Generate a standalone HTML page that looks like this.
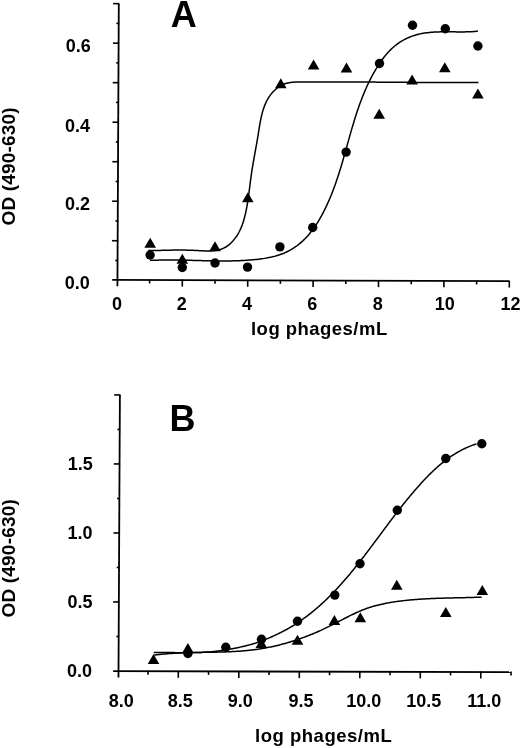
<!DOCTYPE html>
<html><head><meta charset="utf-8"><style>
html,body{margin:0;padding:0;background:#fff;}
body{width:520px;height:748px;overflow:hidden;}
svg{display:block;will-change:transform;}
text{font-family:"Liberation Sans",sans-serif;font-weight:bold;fill:#000;}
</style></head><body>
<svg width="520" height="748" viewBox="0 0 520 748">
<rect width="520" height="748" fill="#fff"/>
<g stroke="#000" fill="#000" stroke-linecap="butt">
<line x1="112.20" y1="279.89" x2="509.30" y2="281.04" stroke-width="1.8"/>
<line x1="118.80" y1="3.64" x2="117.42" y2="286.20" stroke-width="1.8"/>
<line x1="115.25" y1="260.49" x2="118.05" y2="260.49" stroke-width="1.6"/>
<line x1="111.94" y1="240.73" x2="118.14" y2="240.73" stroke-width="1.6"/>
<line x1="115.44" y1="220.98" x2="118.24" y2="220.98" stroke-width="1.6"/>
<line x1="112.13" y1="201.22" x2="118.33" y2="201.22" stroke-width="1.6"/>
<line x1="115.63" y1="181.46" x2="118.43" y2="181.46" stroke-width="1.6"/>
<line x1="112.33" y1="161.70" x2="118.53" y2="161.70" stroke-width="1.6"/>
<line x1="115.82" y1="141.94" x2="118.62" y2="141.94" stroke-width="1.6"/>
<line x1="112.52" y1="122.19" x2="118.72" y2="122.19" stroke-width="1.6"/>
<line x1="116.02" y1="102.43" x2="118.82" y2="102.43" stroke-width="1.6"/>
<line x1="112.71" y1="82.67" x2="118.91" y2="82.67" stroke-width="1.6"/>
<line x1="116.21" y1="62.91" x2="119.01" y2="62.91" stroke-width="1.6"/>
<line x1="112.91" y1="43.15" x2="119.11" y2="43.15" stroke-width="1.6"/>
<line x1="116.40" y1="23.40" x2="119.20" y2="23.40" stroke-width="1.6"/>
<line x1="113.10" y1="3.64" x2="119.30" y2="3.64" stroke-width="1.6"/>
<line x1="149.60" y1="279.49" x2="149.60" y2="283.49" stroke-width="1.6"/>
<line x1="182.30" y1="279.59" x2="182.30" y2="286.59" stroke-width="1.6"/>
<line x1="215.00" y1="279.68" x2="215.00" y2="283.68" stroke-width="1.6"/>
<line x1="247.70" y1="279.78" x2="247.70" y2="286.78" stroke-width="1.6"/>
<line x1="280.40" y1="279.87" x2="280.40" y2="283.87" stroke-width="1.6"/>
<line x1="313.10" y1="279.97" x2="313.10" y2="286.97" stroke-width="1.6"/>
<line x1="345.80" y1="280.06" x2="345.80" y2="284.06" stroke-width="1.6"/>
<line x1="378.50" y1="280.16" x2="378.50" y2="287.16" stroke-width="1.6"/>
<line x1="411.20" y1="280.25" x2="411.20" y2="284.25" stroke-width="1.6"/>
<line x1="443.90" y1="280.35" x2="443.90" y2="287.35" stroke-width="1.6"/>
<line x1="476.60" y1="280.44" x2="476.60" y2="284.44" stroke-width="1.6"/>
<line x1="509.30" y1="280.54" x2="509.30" y2="287.54" stroke-width="1.6"/>
<line x1="113.20" y1="671.19" x2="511.05" y2="672.10" stroke-width="1.8"/>
<line x1="119.90" y1="394.95" x2="118.47" y2="677.50" stroke-width="1.8"/>
<line x1="116.38" y1="636.45" x2="119.18" y2="636.45" stroke-width="1.6"/>
<line x1="113.15" y1="601.95" x2="119.35" y2="601.95" stroke-width="1.6"/>
<line x1="116.73" y1="567.45" x2="119.53" y2="567.45" stroke-width="1.6"/>
<line x1="113.50" y1="532.95" x2="119.70" y2="532.95" stroke-width="1.6"/>
<line x1="117.08" y1="498.45" x2="119.88" y2="498.45" stroke-width="1.6"/>
<line x1="113.85" y1="463.95" x2="120.05" y2="463.95" stroke-width="1.6"/>
<line x1="117.43" y1="429.45" x2="120.23" y2="429.45" stroke-width="1.6"/>
<line x1="114.20" y1="394.95" x2="120.40" y2="394.95" stroke-width="1.6"/>
<line x1="148.05" y1="670.77" x2="148.05" y2="674.77" stroke-width="1.6"/>
<line x1="178.30" y1="670.84" x2="178.30" y2="677.84" stroke-width="1.6"/>
<line x1="208.55" y1="670.91" x2="208.55" y2="674.91" stroke-width="1.6"/>
<line x1="238.80" y1="670.98" x2="238.80" y2="677.98" stroke-width="1.6"/>
<line x1="269.05" y1="671.05" x2="269.05" y2="675.05" stroke-width="1.6"/>
<line x1="299.30" y1="671.12" x2="299.30" y2="678.12" stroke-width="1.6"/>
<line x1="329.55" y1="671.19" x2="329.55" y2="675.19" stroke-width="1.6"/>
<line x1="359.80" y1="671.26" x2="359.80" y2="678.26" stroke-width="1.6"/>
<line x1="390.05" y1="671.33" x2="390.05" y2="675.33" stroke-width="1.6"/>
<line x1="420.30" y1="671.40" x2="420.30" y2="678.40" stroke-width="1.6"/>
<line x1="450.55" y1="671.47" x2="450.55" y2="675.47" stroke-width="1.6"/>
<line x1="480.80" y1="671.53" x2="480.80" y2="678.53" stroke-width="1.6"/>
<line x1="511.05" y1="671.60" x2="511.05" y2="675.60" stroke-width="1.6"/>
<path d="M148.33,250.55 L149.59,250.55 L150.87,250.55 L152.18,250.54 L153.51,250.52 L154.86,250.50 L156.24,250.47 L157.63,250.44 L159.05,250.41 L160.48,250.38 L161.94,250.35 L163.40,250.31 L164.89,250.27 L166.39,250.24 L167.91,250.21 L169.44,250.17 L170.98,250.14 L172.53,250.12 L174.09,250.09 L175.66,250.08 L177.24,250.06 L178.83,250.06 L180.42,250.06 L182.02,250.06 L183.63,250.07 L185.23,250.10 L186.85,250.13 L188.46,250.17 L190.07,250.22 L191.68,250.28 L193.29,250.35 L194.90,250.44 L196.51,250.53 L198.11,250.62 L199.71,250.71 L201.30,250.80 L202.88,250.87 L204.46,250.93 L206.03,250.96 L207.59,250.98 L209.13,250.96 L210.67,250.91 L212.19,250.82 L213.69,250.68 L215.18,250.50 L216.64,250.26 L218.09,249.97 L219.50,249.62 L220.90,249.20 L222.26,248.71 L223.59,248.15 L224.89,247.50 L226.16,246.77 L227.39,245.96 L228.58,245.07 L229.73,244.10 L230.84,243.09 L231.90,242.02 L232.92,240.92 L233.89,239.80 L234.81,238.64 L235.69,237.46 L236.53,236.26 L237.32,235.04 L238.07,233.79 L238.79,232.52 L239.47,231.23 L240.11,229.92 L240.72,228.59 L241.29,227.25 L241.84,225.88 L242.36,224.50 L242.85,223.10 L243.31,221.69 L243.75,220.26 L244.17,218.82 L244.56,217.37 L244.94,215.90 L245.30,214.42 L245.64,212.94 L245.96,211.44 L246.27,209.93 L246.57,208.42 L246.85,206.89 L247.12,205.37 L247.38,203.83 L247.63,202.29 L247.87,200.75 L248.10,199.20 L248.32,197.65 L248.54,196.10 L248.74,194.54 L248.95,192.99 L249.15,191.44 L249.34,189.89 L249.54,188.34 L249.73,186.79 L249.92,185.25 L250.12,183.71 L250.31,182.17 L250.51,180.65 L250.71,179.13 L250.91,177.61 L251.12,176.11 L251.33,174.61 L251.55,173.12 L251.77,171.64 L252.00,170.17 L252.23,168.70 L252.47,167.24 L252.71,165.79 L252.96,164.33 L253.20,162.89 L253.45,161.44 L253.71,160.00 L253.96,158.55 L254.22,157.11 L254.48,155.67 L254.74,154.23 L255.00,152.79 L255.26,151.34 L255.52,149.90 L255.78,148.45 L256.04,146.99 L256.30,145.53 L256.56,144.07 L256.82,142.60 L257.08,141.13 L257.33,139.64 L257.59,138.15 L257.84,136.65 L258.09,135.15 L258.33,133.63 L258.57,132.10 L258.82,130.57 L259.06,129.03 L259.31,127.48 L259.56,125.93 L259.83,124.38 L260.10,122.83 L260.39,121.29 L260.69,119.74 L261.00,118.20 L261.34,116.67 L261.69,115.15 L262.07,113.64 L262.47,112.13 L262.90,110.65 L263.36,109.17 L263.85,107.71 L264.37,106.27 L264.93,104.85 L265.52,103.45 L266.15,102.08 L266.83,100.73 L267.54,99.40 L268.30,98.10 L269.11,96.83 L269.97,95.59 L270.88,94.38 L271.84,93.21 L272.84,92.08 L273.89,90.99 L274.99,89.95 L276.12,88.96 L277.30,88.02 L278.51,87.15 L279.75,86.33 L281.03,85.58 L282.34,84.90 L283.67,84.29 L285.03,83.76 L286.42,83.31 L287.82,82.95 L289.25,82.66 L290.69,82.44 L292.14,82.27 L293.61,82.16 L295.09,82.08 L296.58,82.03 L298.07,82.01 L299.57,81.99 L301.06,81.98 L302.56,81.97 L304.06,81.96 L305.56,81.95 L307.07,81.94 L308.57,81.93 L310.07,81.93 L311.58,81.92 L313.08,81.91 L314.59,81.91 L316.10,81.91 L317.61,81.90 L319.12,81.90 L320.63,81.90 L322.14,81.89 L323.65,81.89 L325.17,81.89 L326.68,81.89 L328.20,81.89 L329.71,81.90 L331.23,81.90 L332.75,81.90 L334.26,81.90 L335.78,81.91 L337.30,81.91 L338.82,81.91 L340.34,81.92 L341.86,81.92 L343.39,81.93 L344.91,81.94 L346.43,81.94 L347.95,81.95 L349.48,81.96 L351.00,81.96 L352.53,81.97 L354.05,81.98 L355.58,81.99 L357.10,82.00 L358.63,82.01 L360.16,82.02 L361.68,82.03 L363.21,82.04 L364.74,82.05 L366.26,82.06 L367.79,82.07 L369.32,82.08 L370.85,82.09 L372.38,82.10 L373.91,82.11 L375.43,82.12 L376.96,82.13 L378.49,82.15 L380.02,82.16 L381.55,82.17 L383.08,82.18 L384.61,82.19 L386.14,82.21 L387.66,82.22 L389.19,82.23 L390.72,82.24 L392.25,82.25 L393.78,82.27 L395.31,82.28 L396.83,82.29 L398.36,82.30 L399.89,82.32 L401.42,82.33 L402.94,82.34 L404.47,82.35 L406.00,82.36 L407.52,82.37 L409.05,82.38 L410.57,82.40 L412.10,82.41 L413.62,82.42 L415.15,82.43 L416.67,82.44 L418.19,82.45 L419.72,82.46 L421.24,82.47 L422.76,82.48 L424.28,82.49 L425.80,82.49 L427.32,82.50 L428.84,82.51 L430.36,82.52 L431.88,82.53 L433.39,82.53 L434.91,82.54 L436.43,82.54 L437.94,82.55 L439.46,82.56 L440.97,82.56 L442.48,82.56 L443.99,82.57 L445.50,82.57 L447.01,82.57 L448.52,82.58 L450.03,82.58 L451.54,82.58 L453.04,82.58 L454.55,82.58 L456.05,82.58 L457.56,82.58 L459.06,82.58 L460.56,82.58 L462.06,82.57 L463.56,82.57 L465.05,82.57 L466.55,82.56 L468.05,82.56 L469.54,82.55 L471.03,82.54 L472.52,82.53 L474.01,82.53 L475.50,82.52 L476.99,82.51 L478.48,82.50" fill="none" stroke-width="1.5" stroke-linejoin="round"/>
<path d="M150.02,260.44 L151.59,260.37 L153.15,260.30 L154.71,260.24 L156.27,260.18 L157.83,260.14 L159.38,260.10 L160.94,260.06 L162.49,260.04 L164.03,260.01 L165.58,260.00 L167.13,259.99 L168.67,259.99 L170.21,259.99 L171.75,259.99 L173.29,260.00 L174.83,260.02 L176.37,260.03 L177.91,260.05 L179.44,260.08 L180.98,260.11 L182.51,260.14 L184.05,260.17 L185.58,260.21 L187.11,260.24 L188.65,260.28 L190.18,260.32 L191.71,260.36 L193.25,260.40 L194.78,260.45 L196.31,260.49 L197.85,260.53 L199.38,260.57 L200.91,260.62 L202.45,260.66 L203.99,260.70 L205.52,260.74 L207.06,260.77 L208.60,260.81 L210.14,260.84 L211.68,260.87 L213.23,260.90 L214.77,260.92 L216.32,260.94 L217.86,260.96 L219.41,260.97 L220.97,260.98 L222.52,260.99 L224.07,260.99 L225.63,260.98 L227.19,260.97 L228.75,260.96 L230.32,260.93 L231.88,260.91 L233.45,260.87 L235.01,260.83 L236.58,260.79 L238.15,260.73 L239.72,260.67 L241.29,260.60 L242.85,260.52 L244.42,260.43 L245.99,260.34 L247.56,260.23 L249.12,260.12 L250.68,260.00 L252.25,259.87 L253.81,259.73 L255.36,259.57 L256.92,259.41 L258.47,259.23 L260.02,259.04 L261.56,258.84 L263.10,258.62 L264.63,258.38 L266.16,258.12 L267.68,257.85 L269.19,257.55 L270.70,257.23 L272.19,256.89 L273.68,256.53 L275.16,256.14 L276.62,255.72 L278.08,255.27 L279.52,254.80 L280.95,254.29 L282.36,253.76 L283.77,253.19 L285.16,252.59 L286.53,251.95 L287.89,251.29 L289.23,250.59 L290.56,249.86 L291.87,249.10 L293.16,248.31 L294.43,247.49 L295.68,246.63 L296.92,245.75 L298.13,244.84 L299.32,243.90 L300.49,242.93 L301.64,241.93 L302.77,240.90 L303.87,239.85 L304.96,238.77 L306.02,237.67 L307.07,236.54 L308.10,235.39 L309.10,234.22 L310.09,233.03 L311.06,231.82 L312.01,230.59 L312.94,229.34 L313.85,228.07 L314.75,226.79 L315.63,225.49 L316.49,224.18 L317.34,222.86 L318.17,221.52 L318.98,220.17 L319.78,218.81 L320.56,217.44 L321.33,216.07 L322.08,214.68 L322.82,213.29 L323.55,211.89 L324.26,210.49 L324.96,209.08 L325.64,207.67 L326.31,206.26 L326.97,204.85 L327.62,203.43 L328.26,202.02 L328.88,200.60 L329.50,199.18 L330.10,197.76 L330.69,196.34 L331.27,194.91 L331.84,193.48 L332.41,192.05 L332.96,190.62 L333.50,189.19 L334.04,187.76 L334.57,186.32 L335.09,184.88 L335.60,183.44 L336.10,181.99 L336.60,180.55 L337.09,179.10 L337.57,177.64 L338.05,176.19 L338.52,174.73 L338.99,173.27 L339.45,171.81 L339.91,170.34 L340.36,168.88 L340.81,167.41 L341.25,165.93 L341.69,164.46 L342.13,162.98 L342.56,161.50 L343.00,160.01 L343.42,158.53 L343.85,157.04 L344.27,155.56 L344.70,154.07 L345.12,152.57 L345.54,151.08 L345.96,149.59 L346.37,148.10 L346.79,146.60 L347.21,145.11 L347.63,143.61 L348.04,142.11 L348.46,140.62 L348.88,139.12 L349.30,137.62 L349.72,136.13 L350.15,134.63 L350.57,133.14 L351.00,131.64 L351.43,130.15 L351.87,128.65 L352.30,127.16 L352.75,125.67 L353.19,124.18 L353.64,122.69 L354.09,121.21 L354.55,119.72 L355.01,118.24 L355.47,116.76 L355.95,115.28 L356.42,113.80 L356.91,112.33 L357.40,110.86 L357.89,109.39 L358.39,107.92 L358.90,106.46 L359.42,105.00 L359.94,103.55 L360.48,102.09 L361.02,100.64 L361.56,99.20 L362.12,97.76 L362.69,96.32 L363.26,94.89 L363.85,93.46 L364.44,92.03 L365.04,90.61 L365.66,89.20 L366.28,87.79 L366.92,86.38 L367.56,84.98 L368.22,83.59 L368.89,82.20 L369.57,80.81 L370.26,79.43 L370.97,78.06 L371.69,76.70 L372.42,75.33 L373.16,73.98 L373.92,72.63 L374.69,71.29 L375.48,69.96 L376.28,68.63 L377.09,67.31 L377.92,66.00 L378.77,64.69 L379.63,63.39 L380.50,62.10 L381.40,60.82 L382.30,59.55 L383.23,58.30 L384.17,57.06 L385.14,55.84 L386.12,54.64 L387.12,53.46 L388.14,52.31 L389.19,51.19 L390.25,50.09 L391.34,49.03 L392.45,48.00 L393.58,47.00 L394.73,46.03 L395.91,45.10 L397.10,44.19 L398.31,43.32 L399.55,42.48 L400.80,41.68 L402.07,40.90 L403.36,40.16 L404.67,39.45 L406.00,38.78 L407.34,38.14 L408.71,37.53 L410.09,36.95 L411.49,36.41 L412.90,35.90 L414.33,35.43 L415.78,34.99 L417.24,34.58 L418.72,34.21 L420.21,33.88 L421.72,33.57 L423.24,33.29 L424.77,33.05 L426.31,32.83 L427.86,32.64 L429.43,32.47 L431.00,32.32 L432.58,32.20 L434.16,32.09 L435.76,32.01 L437.35,31.94 L438.96,31.89 L440.56,31.85 L442.17,31.82 L443.78,31.80 L445.39,31.80 L447.00,31.80 L448.61,31.80 L450.22,31.81 L451.83,31.83 L453.43,31.85 L455.03,31.86 L456.63,31.88 L458.21,31.89 L459.80,31.90 L461.37,31.90 L462.93,31.90 L464.49,31.89 L466.04,31.86 L467.57,31.83 L469.09,31.78 L470.60,31.71 L472.10,31.63 L473.58,31.54 L475.05,31.42 L476.50,31.28 L477.93,31.12" fill="none" stroke-width="1.5" stroke-linejoin="round"/>
<path d="M153.75,652.60 L155.07,652.58 L156.40,652.56 L157.72,652.55 L159.05,652.54 L160.39,652.53 L161.72,652.53 L163.06,652.53 L164.39,652.54 L165.73,652.54 L167.08,652.55 L168.42,652.56 L169.76,652.57 L171.11,652.59 L172.46,652.60 L173.81,652.61 L175.16,652.63 L176.52,652.64 L177.87,652.65 L179.23,652.66 L180.58,652.67 L181.94,652.68 L183.30,652.68 L184.66,652.69 L186.02,652.69 L187.38,652.68 L188.74,652.68 L190.10,652.67 L191.46,652.65 L192.83,652.63 L194.19,652.61 L195.55,652.58 L196.92,652.54 L198.28,652.50 L199.65,652.45 L201.01,652.40 L202.37,652.34 L203.74,652.27 L205.10,652.19 L206.46,652.11 L207.82,652.01 L209.19,651.91 L210.55,651.80 L211.91,651.68 L213.27,651.55 L214.63,651.41 L215.98,651.26 L217.34,651.09 L218.70,650.92 L220.05,650.74 L221.41,650.54 L222.76,650.34 L224.11,650.13 L225.46,649.91 L226.81,649.68 L228.15,649.45 L229.50,649.21 L230.84,648.96 L232.18,648.71 L233.52,648.45 L234.86,648.19 L236.19,647.93 L237.53,647.66 L238.86,647.39 L240.18,647.11 L241.51,646.82 L242.83,646.52 L244.15,646.22 L245.47,645.91 L246.79,645.58 L248.10,645.25 L249.41,644.90 L250.72,644.54 L252.02,644.17 L253.32,643.78 L254.62,643.38 L255.92,642.96 L257.21,642.53 L258.49,642.09 L259.78,641.63 L261.06,641.16 L262.34,640.67 L263.61,640.18 L264.88,639.67 L266.15,639.16 L267.41,638.64 L268.67,638.10 L269.92,637.57 L271.17,637.02 L272.41,636.47 L273.66,635.91 L274.89,635.34 L276.12,634.77 L277.35,634.19 L278.57,633.60 L279.79,633.00 L281.01,632.40 L282.21,631.78 L283.42,631.16 L284.62,630.52 L285.81,629.88 L287.00,629.22 L288.18,628.56 L289.36,627.88 L290.53,627.19 L291.70,626.50 L292.86,625.79 L294.02,625.07 L295.17,624.35 L296.31,623.61 L297.45,622.87 L298.58,622.11 L299.71,621.35 L300.83,620.58 L301.94,619.80 L303.05,619.01 L304.15,618.22 L305.24,617.41 L306.33,616.60 L307.41,615.78 L308.49,614.96 L309.56,614.13 L310.62,613.29 L311.68,612.45 L312.72,611.60 L313.77,610.74 L314.80,609.88 L315.83,609.01 L316.86,608.14 L317.87,607.26 L318.89,606.37 L319.89,605.48 L320.89,604.58 L321.89,603.68 L322.88,602.77 L323.86,601.86 L324.84,600.94 L325.81,600.02 L326.78,599.09 L327.74,598.15 L328.70,597.21 L329.65,596.27 L330.60,595.32 L331.54,594.37 L332.48,593.41 L333.42,592.44 L334.34,591.48 L335.27,590.50 L336.19,589.53 L337.11,588.55 L338.02,587.56 L338.93,586.57 L339.83,585.58 L340.73,584.58 L341.63,583.58 L342.52,582.58 L343.41,581.57 L344.29,580.55 L345.17,579.54 L346.05,578.52 L346.93,577.50 L347.80,576.47 L348.67,575.44 L349.53,574.41 L350.40,573.37 L351.26,572.33 L352.11,571.29 L352.97,570.24 L353.82,569.20 L354.67,568.15 L355.51,567.09 L356.36,566.04 L357.20,564.98 L358.04,563.92 L358.88,562.85 L359.72,561.79 L360.55,560.72 L361.38,559.65 L362.21,558.58 L363.04,557.50 L363.87,556.43 L364.70,555.35 L365.52,554.27 L366.34,553.19 L367.17,552.11 L367.99,551.02 L368.81,549.94 L369.63,548.85 L370.44,547.76 L371.26,546.67 L372.08,545.58 L372.90,544.49 L373.71,543.40 L374.53,542.31 L375.34,541.21 L376.16,540.12 L376.97,539.02 L377.79,537.93 L378.60,536.83 L379.42,535.73 L380.23,534.64 L381.05,533.54 L381.86,532.44 L382.68,531.34 L383.49,530.24 L384.31,529.15 L385.13,528.05 L385.95,526.95 L386.77,525.85 L387.59,524.76 L388.41,523.66 L389.23,522.56 L390.06,521.47 L390.88,520.37 L391.71,519.28 L392.54,518.19 L393.37,517.10 L394.20,516.00 L395.04,514.91 L395.87,513.83 L396.71,512.74 L397.55,511.65 L398.39,510.57 L399.23,509.48 L400.08,508.40 L400.93,507.32 L401.78,506.24 L402.63,505.16 L403.49,504.09 L404.35,503.01 L405.21,501.94 L406.08,500.87 L406.94,499.81 L407.81,498.74 L408.69,497.68 L409.57,496.62 L410.45,495.56 L411.33,494.51 L412.22,493.45 L413.11,492.40 L414.01,491.36 L414.90,490.31 L415.81,489.27 L416.71,488.23 L417.62,487.20 L418.54,486.16 L419.46,485.14 L420.38,484.11 L421.31,483.09 L422.24,482.07 L423.18,481.06 L424.12,480.05 L425.07,479.04 L426.02,478.05 L426.98,477.05 L427.94,476.07 L428.90,475.09 L429.87,474.12 L430.85,473.15 L431.83,472.20 L432.82,471.25 L433.81,470.31 L434.81,469.37 L435.82,468.45 L436.83,467.54 L437.84,466.64 L438.87,465.74 L439.90,464.86 L440.93,463.99 L441.97,463.13 L443.02,462.29 L444.07,461.45 L445.13,460.63 L446.20,459.82 L447.27,459.02 L448.35,458.24 L449.44,457.47 L450.53,456.72 L451.63,455.98 L452.74,455.25 L453.86,454.54 L454.98,453.84 L456.11,453.15 L457.25,452.48 L458.39,451.83 L459.54,451.19 L460.70,450.56 L461.87,449.95 L463.05,449.36 L464.23,448.78 L465.43,448.21 L466.63,447.67 L467.83,447.13 L469.05,446.62 L470.28,446.11 L471.51,445.63 L472.75,445.16 L474.01,444.71 L475.27,444.27 L476.53,443.85" fill="none" stroke-width="1.5" stroke-linejoin="round"/>
<path d="M154.15,655.09 L155.30,654.94 L156.44,654.80 L157.58,654.67 L158.72,654.54 L159.86,654.42 L161.01,654.30 L162.15,654.19 L163.29,654.08 L164.43,653.98 L165.57,653.88 L166.71,653.78 L167.85,653.70 L168.99,653.61 L170.13,653.53 L171.27,653.45 L172.41,653.38 L173.55,653.31 L174.69,653.24 L175.83,653.18 L176.96,653.12 L178.10,653.06 L179.24,653.01 L180.38,652.96 L181.51,652.91 L182.65,652.87 L183.79,652.82 L184.92,652.79 L186.06,652.75 L187.19,652.71 L188.33,652.68 L189.46,652.65 L190.60,652.62 L191.73,652.59 L192.86,652.56 L194.00,652.54 L195.13,652.52 L196.26,652.49 L197.39,652.47 L198.52,652.45 L199.66,652.43 L200.79,652.41 L201.92,652.39 L203.05,652.37 L204.17,652.36 L205.30,652.34 L206.43,652.32 L207.56,652.30 L208.69,652.28 L209.81,652.26 L210.94,652.24 L212.07,652.22 L213.19,652.20 L214.31,652.18 L215.44,652.16 L216.56,652.14 L217.69,652.11 L218.81,652.08 L219.93,652.05 L221.05,652.02 L222.17,651.99 L223.29,651.96 L224.41,651.92 L225.53,651.88 L226.65,651.84 L227.77,651.80 L228.88,651.76 L230.00,651.71 L231.12,651.66 L232.23,651.60 L233.35,651.54 L234.46,651.48 L235.57,651.42 L236.69,651.35 L237.80,651.28 L238.91,651.21 L240.02,651.13 L241.13,651.05 L242.24,650.96 L243.35,650.87 L244.46,650.77 L245.56,650.67 L246.67,650.57 L247.78,650.46 L248.88,650.34 L249.98,650.22 L251.09,650.10 L252.19,649.97 L253.29,649.83 L254.39,649.69 L255.49,649.55 L256.59,649.39 L257.69,649.23 L258.79,649.07 L259.89,648.90 L260.98,648.73 L262.08,648.55 L263.17,648.36 L264.27,648.17 L265.36,647.97 L266.45,647.77 L267.54,647.56 L268.63,647.34 L269.72,647.12 L270.81,646.90 L271.90,646.67 L272.98,646.43 L274.07,646.19 L275.15,645.94 L276.24,645.69 L277.32,645.43 L278.40,645.17 L279.48,644.90 L280.56,644.63 L281.64,644.35 L282.72,644.06 L283.80,643.77 L284.87,643.48 L285.95,643.18 L287.02,642.87 L288.10,642.56 L289.17,642.24 L290.24,641.92 L291.31,641.59 L292.38,641.26 L293.45,640.92 L294.52,640.58 L295.58,640.23 L296.65,639.88 L297.71,639.52 L298.77,639.16 L299.83,638.79 L300.89,638.41 L301.95,638.03 L303.01,637.65 L304.07,637.26 L305.13,636.87 L306.18,636.47 L307.23,636.06 L308.29,635.65 L309.34,635.24 L310.39,634.82 L311.44,634.40 L312.49,633.97 L313.53,633.53 L314.58,633.09 L315.62,632.65 L316.67,632.20 L317.71,631.75 L318.75,631.29 L319.79,630.82 L320.83,630.36 L321.87,629.88 L322.90,629.40 L323.94,628.92 L324.97,628.43 L326.00,627.94 L327.03,627.44 L328.06,626.94 L329.09,626.44 L330.12,625.92 L331.14,625.41 L332.17,624.89 L333.19,624.37 L334.21,623.84 L335.24,623.32 L336.26,622.79 L337.28,622.26 L338.30,621.72 L339.32,621.19 L340.34,620.66 L341.36,620.13 L342.38,619.60 L343.39,619.07 L344.41,618.54 L345.43,618.02 L346.45,617.50 L347.47,616.98 L348.49,616.46 L349.51,615.95 L350.53,615.44 L351.55,614.94 L352.57,614.45 L353.60,613.96 L354.62,613.47 L355.64,612.99 L356.67,612.53 L357.70,612.06 L358.72,611.61 L359.75,611.16 L360.78,610.73 L361.82,610.30 L362.85,609.89 L363.88,609.48 L364.92,609.09 L365.96,608.70 L367.00,608.33 L368.04,607.97 L369.09,607.62 L370.14,607.28 L371.18,606.95 L372.23,606.63 L373.29,606.32 L374.34,606.02 L375.40,605.73 L376.46,605.45 L377.52,605.18 L378.58,604.92 L379.64,604.66 L380.71,604.41 L381.78,604.17 L382.85,603.94 L383.92,603.71 L385.00,603.49 L386.08,603.28 L387.16,603.08 L388.24,602.88 L389.32,602.68 L390.41,602.49 L391.50,602.31 L392.59,602.13 L393.68,601.96 L394.77,601.79 L395.87,601.63 L396.97,601.48 L398.07,601.32 L399.17,601.18 L400.28,601.03 L401.39,600.89 L402.49,600.76 L403.60,600.63 L404.72,600.50 L405.83,600.38 L406.94,600.27 L408.06,600.15 L409.18,600.04 L410.30,599.94 L411.42,599.84 L412.54,599.74 L413.66,599.64 L414.79,599.55 L415.91,599.47 L417.04,599.38 L418.17,599.30 L419.30,599.22 L420.43,599.15 L421.56,599.08 L422.69,599.01 L423.83,598.94 L424.96,598.88 L426.09,598.82 L427.23,598.76 L428.36,598.70 L429.50,598.65 L430.64,598.60 L431.77,598.55 L432.91,598.50 L434.05,598.45 L435.19,598.41 L436.33,598.37 L437.47,598.33 L438.61,598.29 L439.75,598.25 L440.89,598.22 L442.03,598.18 L443.16,598.15 L444.30,598.12 L445.44,598.09 L446.58,598.06 L447.72,598.03 L448.86,598.00 L450.00,597.97 L451.14,597.95 L452.28,597.92 L453.42,597.89 L454.55,597.87 L455.69,597.84 L456.83,597.82 L457.96,597.79 L459.10,597.77 L460.23,597.74 L461.36,597.72 L462.50,597.69 L463.63,597.67 L464.76,597.64 L465.89,597.61 L467.02,597.59 L468.15,597.56 L469.27,597.53 L470.40,597.50 L471.52,597.47 L472.64,597.44 L473.77,597.40 L474.89,597.37 L476.01,597.33 L477.12,597.29 L478.24,597.26 L479.35,597.22 L480.47,597.17 L481.58,597.13" fill="none" stroke-width="1.5" stroke-linejoin="round"/>
<path d="M150.20,237.80 L156.00,247.80 L144.40,247.80Z" stroke="none"/>
<path d="M182.30,253.70 L188.10,263.70 L176.50,263.70Z" stroke="none"/>
<path d="M215.00,241.20 L220.80,251.20 L209.20,251.20Z" stroke="none"/>
<path d="M247.80,192.30 L253.60,202.30 L242.00,202.30Z" stroke="none"/>
<path d="M280.80,78.20 L286.60,88.20 L275.00,88.20Z" stroke="none"/>
<path d="M313.60,59.40 L319.40,69.40 L307.80,69.40Z" stroke="none"/>
<path d="M346.50,62.50 L352.30,72.50 L340.70,72.50Z" stroke="none"/>
<path d="M379.20,108.80 L385.00,118.80 L373.40,118.80Z" stroke="none"/>
<path d="M412.10,74.40 L417.90,84.40 L406.30,84.40Z" stroke="none"/>
<path d="M444.80,62.30 L450.60,72.30 L439.00,72.30Z" stroke="none"/>
<path d="M477.90,88.50 L483.70,98.50 L472.10,98.50Z" stroke="none"/>
<circle cx="150.10" cy="255.00" r="4.7" stroke="none"/>
<circle cx="182.30" cy="267.50" r="4.7" stroke="none"/>
<circle cx="215.00" cy="263.00" r="4.7" stroke="none"/>
<circle cx="247.50" cy="267.10" r="4.7" stroke="none"/>
<circle cx="279.90" cy="246.90" r="4.7" stroke="none"/>
<circle cx="312.70" cy="227.50" r="4.7" stroke="none"/>
<circle cx="346.10" cy="152.10" r="4.7" stroke="none"/>
<circle cx="379.50" cy="63.50" r="4.7" stroke="none"/>
<circle cx="412.50" cy="25.20" r="4.7" stroke="none"/>
<circle cx="445.30" cy="28.70" r="4.7" stroke="none"/>
<circle cx="477.90" cy="46.00" r="4.7" stroke="none"/>
<path d="M153.50,654.00 L159.30,664.00 L147.70,664.00Z" stroke="none"/>
<path d="M187.90,643.10 L193.70,653.10 L182.10,653.10Z" stroke="none"/>
<path d="M261.30,638.00 L267.10,648.00 L255.50,648.00Z" stroke="none"/>
<path d="M297.50,634.80 L303.30,644.80 L291.70,644.80Z" stroke="none"/>
<path d="M334.40,615.00 L340.20,625.00 L328.60,625.00Z" stroke="none"/>
<path d="M360.30,612.30 L366.10,622.30 L354.50,622.30Z" stroke="none"/>
<path d="M396.80,579.70 L402.60,589.70 L391.00,589.70Z" stroke="none"/>
<path d="M445.80,606.90 L451.60,616.90 L440.00,616.90Z" stroke="none"/>
<path d="M482.30,584.90 L488.10,594.90 L476.50,594.90Z" stroke="none"/>
<circle cx="187.90" cy="653.50" r="4.7" stroke="none"/>
<circle cx="225.80" cy="647.30" r="4.7" stroke="none"/>
<circle cx="261.50" cy="639.20" r="4.7" stroke="none"/>
<circle cx="297.50" cy="621.20" r="4.7" stroke="none"/>
<circle cx="334.80" cy="595.10" r="4.7" stroke="none"/>
<circle cx="360.00" cy="563.80" r="4.7" stroke="none"/>
<circle cx="397.30" cy="510.30" r="4.7" stroke="none"/>
<circle cx="445.80" cy="458.50" r="4.7" stroke="none"/>
<circle cx="481.80" cy="443.80" r="4.7" stroke="none"/>
</g>
<g>
<text x="90.80" y="52.20" font-size="18" text-anchor="end" >0.6</text>
<text x="90.10" y="131.50" font-size="18" text-anchor="end" >0.4</text>
<text x="90.00" y="210.00" font-size="18" text-anchor="end" >0.2</text>
<text x="89.70" y="288.75" font-size="18" text-anchor="end" >0.0</text>
<text x="92.80" y="469.60" font-size="18" text-anchor="end" >1.5</text>
<text x="92.60" y="538.50" font-size="18" text-anchor="end" >1.0</text>
<text x="92.50" y="607.70" font-size="18" text-anchor="end" >0.5</text>
<text x="92.00" y="677.00" font-size="18" text-anchor="end" >0.0</text>
<text x="117.10" y="309.90" font-size="18" text-anchor="middle" >0</text>
<text x="181.80" y="309.90" font-size="18" text-anchor="middle" >2</text>
<text x="247.00" y="309.90" font-size="18" text-anchor="middle" >4</text>
<text x="312.30" y="309.90" font-size="18" text-anchor="middle" >6</text>
<text x="377.70" y="309.90" font-size="18" text-anchor="middle" >8</text>
<text x="444.70" y="309.90" font-size="18" text-anchor="middle" >10</text>
<text x="510.50" y="309.90" font-size="18" text-anchor="middle" >12</text>
<text x="121.15" y="707.00" font-size="18" text-anchor="middle" >8.0</text>
<text x="180.20" y="707.00" font-size="18" text-anchor="middle" >8.5</text>
<text x="240.30" y="707.00" font-size="18" text-anchor="middle" >9.0</text>
<text x="301.00" y="707.00" font-size="18" text-anchor="middle" >9.5</text>
<text x="363.80" y="707.00" font-size="18" text-anchor="middle" >10.0</text>
<text x="423.80" y="707.00" font-size="18" text-anchor="middle" >10.5</text>
<text x="484.30" y="707.00" font-size="18" text-anchor="middle" >11.0</text>
<text x="251.00" y="335.20" font-size="18.5" text-anchor="start" letter-spacing="0.47">log phages/mL</text>
<text x="255.00" y="741.50" font-size="18.5" text-anchor="start" letter-spacing="0.52">log phages/mL</text>
<text x="0.00" y="0.00" font-size="19" text-anchor="middle" transform="translate(15.3,166.35) rotate(-90)" letter-spacing="0.18">OD (490-630)</text>
<text x="0.00" y="0.00" font-size="19" text-anchor="middle" transform="translate(15.4,558.3) rotate(-90)" letter-spacing="0.2">OD (490-630)</text>
<text x="170.80" y="26.50" font-size="36" text-anchor="start" >A</text>
<text x="169.60" y="431.30" font-size="36" text-anchor="start" >B</text>
</g>
</svg>
</body></html>
